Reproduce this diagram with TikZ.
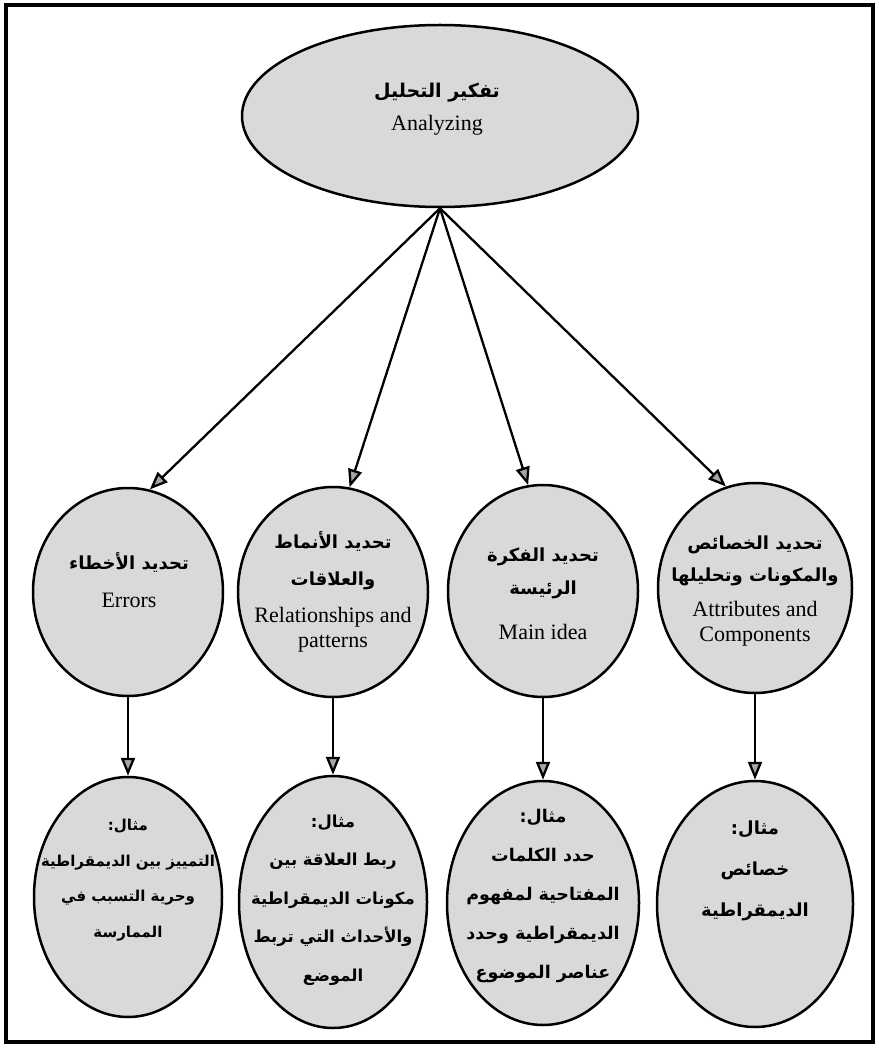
\documentclass[tikz,border=0pt]{standalone}
\usepackage{fontspec}
\setmainfont{Liberation Serif}
\newfontfamily\arabicfont[Script=Arabic]{DejaVu Sans}
\TeXXeTstate=1
\usetikzlibrary{shapes.geometric,arrows.meta}
\newcommand{\AR}[1]{{\arabicfont\bfseries\beginR #1\endR}}
\tikzset{
  bubble/.style={ellipse, draw=black, line width=2.5pt, fill=black!15, inner sep=0pt},
  arr/.style={line width=2.3pt, -{Triangle[length=18pt,width=14pt,fill=black!35]}},
  entext/.style={align=center, inner sep=0pt, font=\fontsize{22}{25}\selectfont},
  artext/.style={align=center, inner sep=0pt, font=\fontsize{18}{37}\selectfont},
}
\begin{document}
\begin{tikzpicture}[x=1pt,y=-1pt]
\useasboundingbox (0,0) rectangle (878,1048);
\draw[line width=3.5pt] (6,5) rectangle (873,1042);

% top
\node[bubble, minimum width=396pt, minimum height=182pt] (top) at (440,116) {};
\node[artext, font=\fontsize{19}{37}\selectfont] (topar) at (437,93) {\AR{تفكير التحليل}};
\node[entext] (topen) at (437,125) {Analyzing};

% row 1
\node[bubble, minimum width=190pt, minimum height=208pt] (err) at (128,592) {};
\node[bubble, minimum width=190pt, minimum height=210pt] (rel) at (333,592) {};
\node[bubble, minimum width=190pt, minimum height=212pt] (main) at (543,591) {};
\node[bubble, minimum width=194pt, minimum height=210pt] (attr) at (755,588) {};

\node[artext] (errar) at (129,562) {\AR{تحديد الأخطاء}};
\node[entext] (erren) at (129,600) {Errors};
\node[artext] (relar) at (333,561) {\AR{تحديد الأنماط}\\\AR{والعلاقات}};
\node[entext] (relen) at (333,630) {Relationships and\\patterns};
\node[artext, font=\fontsize{18}{33}\selectfont] (mainar) at (543,573) {\AR{تحديد الفكرة}\\\AR{الرئيسة}};
\node[entext] (mainen) at (543,632) {Main idea};
\node[artext, font=\fontsize{18}{32}\selectfont] (attrar) at (755,561) {\AR{تحديد الخصائص}\\\AR{والمكونات وتحليلها}};
\node[entext] (attren) at (755,624) {Attributes and\\Components};

% row 2
\node[bubble, minimum width=188pt, minimum height=240pt] (errx) at (128,897) {};
\node[bubble, minimum width=188pt, minimum height=252pt] (relx) at (333,902) {};
\node[bubble, minimum width=192pt, minimum height=244pt] (mainx) at (543,903) {};
\node[bubble, minimum width=196pt, minimum height=246pt] (attrx) at (755,904) {};

\node[artext, font=\fontsize{15}{35.5}\selectfont] (errxt) at (128,880)
  {\AR{مثال:}\\\AR{التمييز بين الديمقراطية}\\\AR{وحرية التسبب في}\\\AR{الممارسة}};
\node[artext, font=\fontsize{16.5}{38.5}\selectfont] (relxt) at (333,900)
  {\AR{مثال:}\\\AR{ربط العلاقة بين}\\\AR{مكونات الديمقراطية}\\\AR{والأحداث التي تربط}\\\AR{الموضع}};
\node[artext, font=\fontsize{17.5}{38.8}\selectfont] (mainxt) at (543,896)
  {\AR{مثال:}\\\AR{حدد الكلمات}\\\AR{المفتاحية لمفهوم}\\\AR{الديمقراطية وحدد}\\\AR{عناصر الموضوع}};
\node[artext, font=\fontsize{18}{41}\selectfont] (attrxt) at (755,871)
  {\AR{مثال:}\\\AR{خصائص}\\\AR{الديمقراطية}};

% connectors
\draw[arr] (top.south) -- (err.78);
\draw[arr] (top.south) -- (rel.81);
\draw[arr] (top.south) -- (main.98);
\draw[arr] (top.south) -- (attr.106);
\draw[arr] (err.south) -- (errx.north);
\draw[arr] (rel.south) -- (relx.north);
\draw[arr] (main.south) -- (mainx.north);
\draw[arr] (attr.south) -- (attrx.north);
\end{tikzpicture}
\end{document}
